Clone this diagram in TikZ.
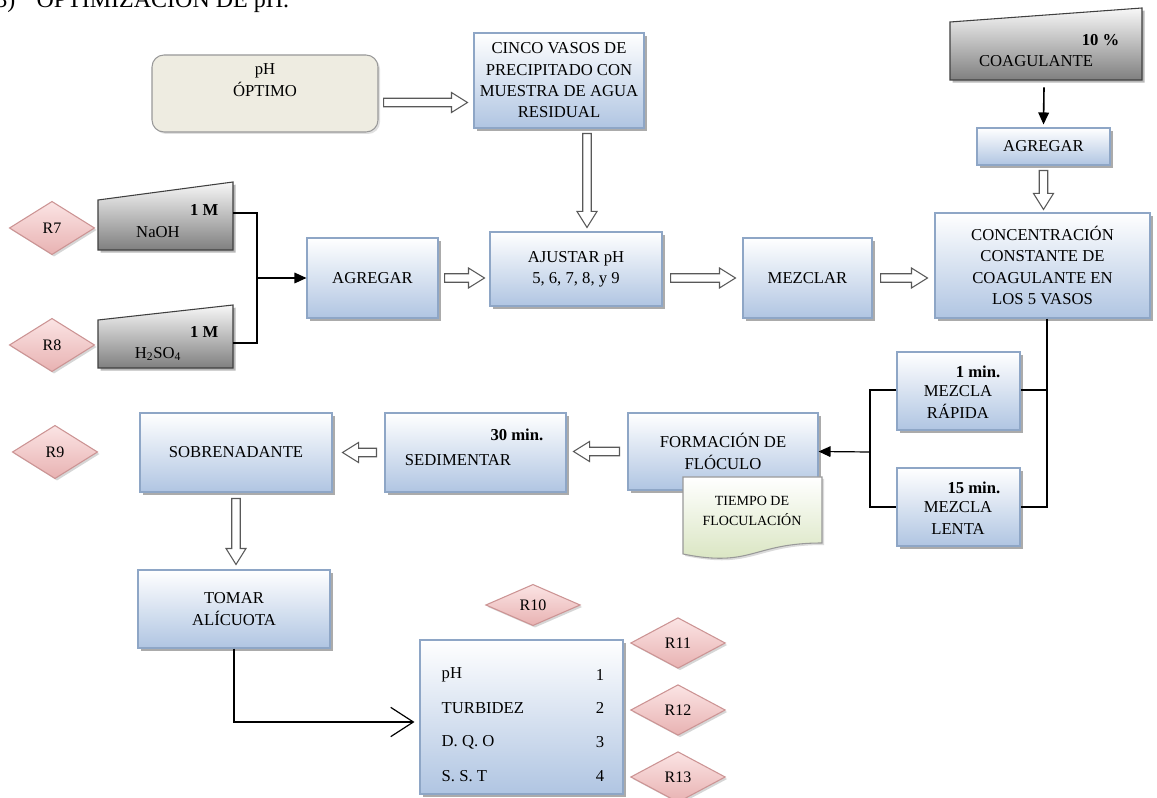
\documentclass[tikz,border=0pt]{standalone}
\usepackage{fontspec}
\setmainfont{Liberation Serif}
\usetikzlibrary{shadows,arrows.meta,calc,shapes.geometric}
\definecolor{boxbot}{HTML}{B0C5E2}
\definecolor{boxline}{HTML}{8EA6C6}
\definecolor{phfill}{HTML}{EEECE1}
\definecolor{diatop}{HTML}{FBE4E4}
\definecolor{diabot}{HTML}{E8B2B2}
\definecolor{dialine}{HTML}{CC9494}
\definecolor{doctop}{HTML}{FFFFFF}
\definecolor{docbot}{HTML}{D6E3BC}
\newcommand\bx[7][]{\node[box,#1,minimum width={(#5-#3)*0.75pt},minimum height={(#6-#4)*0.75pt}] (#2) at ({(#3+#5)/2},{(#4+#6)/2}) {#7};}
\newcommand\blkR[2]{\path[blk] let \p1=(#1),\p2=(#2) in (\x1,\y1+3.2pt) -- (\x2-12pt,\y1+3.2pt) -- (\x2-12pt,\y1+7.5pt) -- (\x2,\y1) -- (\x2-12pt,\y1-7.5pt) -- (\x2-12pt,\y1-3.2pt) -- (\x1,\y1-3.2pt) -- cycle;}
\newcommand\blkL[2]{\path[blk] let \p1=(#1),\p2=(#2) in (\x1,\y1+3.2pt) -- (\x2+12pt,\y1+3.2pt) -- (\x2+12pt,\y1+7.5pt) -- (\x2,\y1) -- (\x2+12pt,\y1-7.5pt) -- (\x2+12pt,\y1-3.2pt) -- (\x1,\y1-3.2pt) -- cycle;}
\newcommand\blkD[2]{\path[blk] let \p1=(#1),\p2=(#2) in (\x1-3.2pt,\y1) -- (\x1-3.2pt,\y2+12pt) -- (\x1-7.5pt,\y2+12pt) -- (\x1,\y2) -- (\x1+7.5pt,\y2+12pt) -- (\x1+3.2pt,\y2+12pt) -- (\x1+3.2pt,\y1) -- cycle;}
\begin{document}
\begin{tikzpicture}[x=0.75pt,y=-0.75pt,
  txt/.style={font=\fontsize{12.5}{16}\selectfont, align=center},
  box/.style={txt, draw=boxline, line width=0.8pt, top color=white, bottom color=boxbot,
    drop shadow={shadow xshift=2.5pt, shadow yshift=-2.5pt, fill=black!55, opacity=0.6}, inner sep=2pt},
  dia/.style={diamond, draw=dialine, line width=0.8pt, top color=diatop, bottom color=diabot,
    minimum width=64pt, minimum height=40pt, inner sep=0pt, font=\fontsize{12}{14}\selectfont,
    drop shadow={shadow xshift=1.5pt, shadow yshift=-1.5pt, fill=black!40, opacity=0.4}},
  manual/.style={draw=black!75, line width=0.8pt, top color=black!3, bottom color=black!50,
    drop shadow={shadow xshift=2pt, shadow yshift=-2pt, fill=black!55, opacity=0.5}},
  blk/.style={draw=black!65, fill=white, line width=0.8pt},
  conn/.style={draw=black, line width=0.9pt},
  barrow/.style={conn, -{Triangle[length=9pt,width=8pt]}},
  bold/.style={font=\fontsize{12.5}{16}\selectfont\bfseries},
]
\useasboundingbox (0,0) rectangle (1157,798);
\fill[white] (0,0) rectangle (1157,798);

% title (cropped at top)
\node[anchor=base west, inner sep=0pt, font=\fontsize{18}{20}\selectfont] (title) at (-5,8) {3)\hspace{16pt}OPTIMIZACIÓN DE pH.};

% pH optimo
\node[draw=black!40, line width=0.8pt, fill=phfill, rounded corners=9pt,
  minimum width={226*0.75pt}, minimum height={77*0.75pt},
  drop shadow={shadow xshift=1.5pt, shadow yshift=-1.5pt, fill=black!30, opacity=0.4}] (opt) at (265,93.5) {};
\node[txt] (opttxt) at (265,80) {pH\\ÓPTIMO};

\bx{cinco}{474}{33}{644}{128}{CINCO VASOS DE\\PRECIPITADO CON\\MUESTRA DE AGUA\\RESIDUAL}
\blkR{$(opt.east)+(5,9)$}{$(cinco.west)+(-6,0)$}

% coagulante
\path[manual] (950,22) -- (1142,8) -- (1142,80) -- (950,80) -- cycle;
\node[minimum width={192*0.75pt}, minimum height={72*0.75pt}, inner sep=0pt] (coag) at (1046,44) {};
\node[bold, anchor=east] (coagpc) at (1124,40) {10 \%};
\node[txt] (coagtxt) at (1036,61) {COAGULANTE};
\bx{agr2}{977}{128}{1110}{165}{AGREGAR}
\draw[barrow, line width=1.2pt] ($(coag.south)+(-2,7)$) -- ($(agr2.north)+(0,-3)$);
\bx{conc}{935}{213}{1150}{318}{CONCENTRACIÓN\\CONSTANTE DE\\COAGULANTE EN\\LOS 5 VASOS}
\blkD{$(agr2.south)+(0,5)$}{$(conc.north)+(0,-3)$}

% reactivos
\path[manual] (98,200) -- (233,182) -- (233,250) -- (98,250) -- cycle;
\node[minimum width={135*0.75pt}, minimum height={68*0.75pt}, inner sep=0pt] (naoh) at (165.5,216) {};
\node[bold, anchor=east] (naohm) at (223,210) {1 M};
\node[txt] (naohtxt) at (158,232) {NaOH};
\path[manual] (98,320) -- (233,305) -- (233,368) -- (98,368) -- cycle;
\node[minimum width={135*0.75pt}, minimum height={63*0.75pt}, inner sep=0pt] (h2so4) at (165.5,336.5) {};
\node[bold, anchor=east] (h2so4m) at (223,332) {1 M};
\node[txt] (h2so4txt) at (158,354) {H\textsubscript{2}SO\textsubscript{4}};
\node[dia] (r7) at (52,228) {R7};
\node[dia] (r8) at (52,345) {R8};

\bx{agr1}{307}{238}{438}{318}{AGREGAR}
\coordinate (brk) at (257,278);
\draw[conn] (naoh.east |- 0,213) -- (brk |- 0,213) -- (brk |- 0,343) -- (h2so4.east |- 0,343);
\draw[barrow] (brk) -- (agr1.west);

\bx{ajus}{490}{232}{662}{306}{AJUSTAR pH\\5, 6, 7, 8, y 9}
\blkR{$(agr1.east)+(6,0)$}{$(ajus.west |- agr1.east)+(-5,0)$}
\blkD{$(cinco.south)+(28,5)$}{$(ajus.north)+(15,-4)$}
\bx{mez}{743}{238}{872}{318}{MEZCLAR}
\blkR{$(ajus.east |- mez.west)+(8,0)$}{$(mez.west)+(-7,0)$}
\blkR{$(mez.east)+(8,0)$}{$(conc.west |- mez.east)+(-7,0)$}

% mezclas
\bx{rap}{897}{352}{1020}{430}{}
\node[bold, anchor=east] (raptime) at (1005,372) {1 min.};
\node[txt] (raptxt) at (958,402) {MEZCLA\\RÁPIDA};
\bx{len}{897}{468}{1020}{546}{}
\node[bold, anchor=east] (lentime) at (1005,488) {15 min.};
\node[txt] (lentxt) at (958,518) {MEZCLA\\LENTA};
\coordinate (rbr) at (1047,507);
\draw[conn] (conc.south -| rbr) -- (rbr) -- (len.east |- rbr);
\draw[conn] (rap.east |- 0,390) -- (rbr |- 0,390);
\coordinate (lbr) at (870,452);
\draw[conn] (rap.west |- 0,390) -- (lbr |- 0,390) -- (lbr |- 0,507) -- (len.west |- 0,507);

\bx{form}{628}{413}{818}{490}{FORMACIÓN DE\\FLÓCULO}
\draw[barrow] (lbr) -- (form.east);
\path[draw=black!40, line width=0.8pt, top color=doctop, bottom color=docbot,
  drop shadow={shadow xshift=1.5pt, shadow yshift=-1.5pt, fill=black!35, opacity=0.4}]
  (683,477) -- (822,477) -- (822,543) .. controls (752,543) and (752,568) .. (683,554) -- cycle;
\node[font=\fontsize{10.5}{15}\selectfont, align=center] (tiempo) at (752,511) {TIEMPO DE\\FLOCULACIÓN};

\bx{sed}{385}{413}{566}{492}{}
\node[bold, anchor=east] (sedtime) at (548,435) {30 min.};
\node[txt] (sedtxt) at (458,460) {SEDIMENTAR};
\blkL{$(form.west)+(-8,0)$}{$(sed.east |- form.west)+(7,0)$}
\bx{sob}{140}{413}{332}{492}{SOBRENADANTE}
\blkL{$(sed.west)+(-8,0)$}{$(sob.east)+(10,0)$}
\node[dia] (r9) at (55,452) {R9};

\bx{tom}{138}{570}{330}{648}{TOMAR\\ALÍCUOTA}
\blkD{$(sob.south)+(0,6)$}{$(tom.north)+(0,-5)$}

% resultados
\bx{res}{420}{640}{623}{794}{}
\node[txt, anchor=west] (l1) at (437,675) {pH};
\node[txt, anchor=west] (l2) at (437,708) {TURBIDEZ};
\node[txt, anchor=west] (l3) at (437,742) {D. Q. O};
\node[txt, anchor=west] (l4) at (437,776) {S. S. T};
\node[txt] (n1) at (600,675) {1};
\node[txt] (n2) at (600,708) {2};
\node[txt] (n3) at (600,742) {3};
\node[txt] (n4) at (600,776) {4};
\coordinate (bend) at (tom.south |- 0,722);
\draw[conn, -{Straight Barb[length=17pt,width=22pt,line width=0.9pt]}] (tom.south) -- (bend) -- ($(res.west |- bend)+(-5,0)$);

\node[dia, minimum width=71pt, minimum height=31pt] (r10) at (533,605) {R10};
\node[dia, minimum width=71pt, minimum height=38pt] (r11) at (678,643) {R11};
\node[dia, minimum width=71pt, minimum height=38pt] (r12) at (678,710) {R12};
\node[dia, minimum width=71pt, minimum height=38pt] (r13) at (678,777) {R13};
\end{tikzpicture}
\end{document}
